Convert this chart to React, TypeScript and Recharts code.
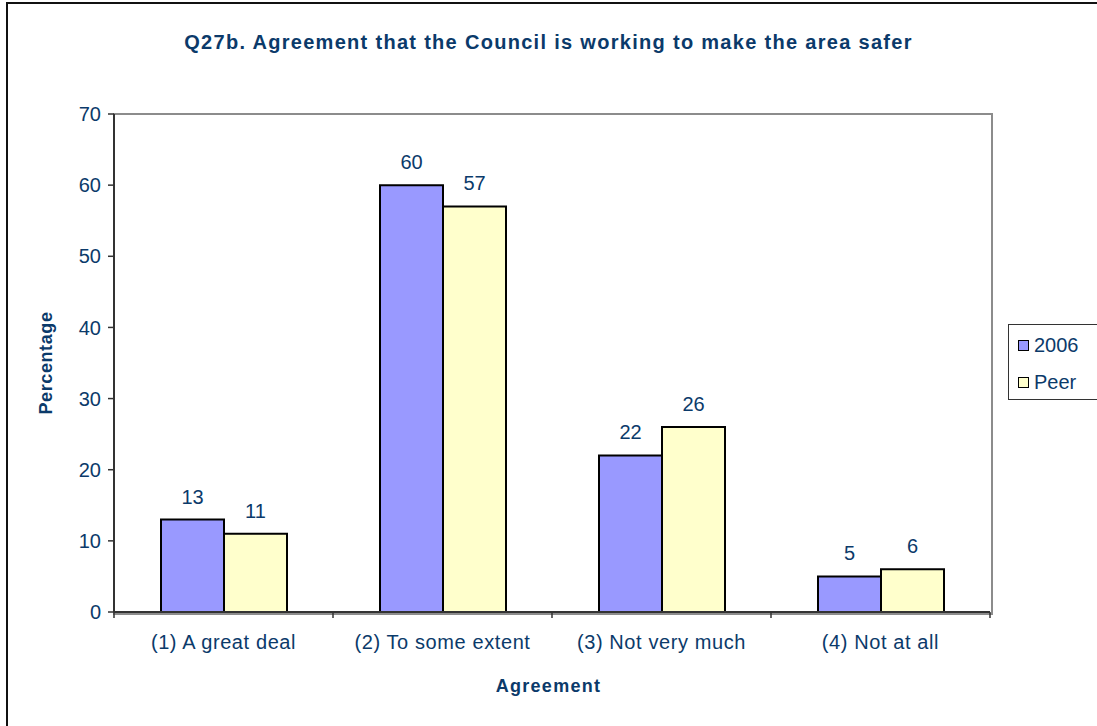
import { BarChart, Bar, XAxis, YAxis, LabelList } from 'recharts'

const categories = ['(1) A great deal', '(2) To some extent', '(3) Not very much', '(4) Not at all']
const values2006 = [13, 60, 22, 5]
const valuesPeer = [11, 57, 26, 6]
const yTicks = [0, 10, 20, 30, 40, 50, 60, 70]
const seriesNames = ['2006', 'Peer']
const seriesColors = ['#9999FF', '#FFFFCC']

const INK = '#0B3A6A'
const AXIS = '#333'
const FONT = 'Arial, "Liberation Sans", sans-serif'

const data = categories.map((name, i) => ({
  name,
  y2006: values2006[i],
  peer: valuesPeer[i],
}))

const W = 1097
const H = 726
const PLOT = { left: 114, top: 114, right: 990, bottom: 612 }
const Y_AXIS_W = 60
const X_AXIS_H = 60
const M = { top: PLOT.top, right: W - PLOT.right, bottom: H - PLOT.bottom - X_AXIS_H, left: PLOT.left - Y_AXIS_W }
const BAND = (PLOT.right - PLOT.left) / categories.length

// category label plus tick marks on the band boundaries
function XTick(props: any) {
  const { x, y, payload, index } = props
  const half = payload && payload.offset ? payload.offset : BAND / 2
  return (
    <g>
      <line x1={x - half} x2={x - half} y1={y} y2={y + 6} stroke={AXIS} strokeWidth={1.5} />
      {index === categories.length - 1 && (
        <line x1={x + half} x2={x + half} y1={y} y2={y + 6} stroke={AXIS} strokeWidth={1.5} />
      )}
      <text x={x} y={y + 23} dy="0.71em" textAnchor="middle" fill={INK} fontSize={20} fontFamily={FONT} letterSpacing={0.6}>
        {payload.value}
      </text>
    </g>
  )
}

export default function App() {
  return (
    <div style={{ position: 'absolute', left: 0, top: 0, width: W, height: H, background: '#fff', fontFamily: FONT, overflow: 'hidden' }}>
      {/* outer frame (cropped at right/bottom) */}
      <div style={{ position: 'absolute', left: 6, top: 2, width: W + 20, height: H + 20, borderLeft: '2px solid #111', borderTop: '2px solid #111' }} />
      {/* plot area frame */}
      <div style={{ position: 'absolute', left: PLOT.left - 1, top: PLOT.top - 1, width: PLOT.right - PLOT.left, height: PLOT.bottom - PLOT.top, border: '2px solid #8c8c8c', boxSizing: 'content-box' }} />

      <div style={{ position: 'absolute', left: 0, top: 31, width: W, textAlign: 'center', color: INK, fontWeight: 'bold', fontSize: 20, letterSpacing: 1.3 }}>
        Q27b. Agreement that the Council is working to make the area safer
      </div>

      <div style={{ position: 'absolute', left: 0, top: 0 }}>
        <BarChart width={W} height={H} data={data} margin={M} barGap={0} barCategoryGap={47}>
          <YAxis
            domain={[0, 70]}
            ticks={yTicks}
            width={Y_AXIS_W}
            tickSize={6}
            tickMargin={7}
            interval={0}
            axisLine={{ stroke: AXIS, strokeWidth: 2 }}
            tickLine={{ stroke: AXIS, strokeWidth: 1.5 }}
            tick={{ fill: INK, fontSize: 20, fontFamily: FONT }}
          />
          <XAxis
            dataKey="name"
            height={X_AXIS_H}
            tickSize={0}
            tickMargin={0}
            tickLine={false}
            interval={0}
            axisLine={{ stroke: AXIS, strokeWidth: 2 }}
            tick={<XTick />}
          />
          <Bar dataKey="y2006" fill={seriesColors[0]} stroke="#000" strokeWidth={2} isAnimationActive={false}>
            <LabelList dataKey="y2006" position="top" offset={16} fill={INK} fontSize={20} fontFamily={FONT} />
          </Bar>
          <Bar dataKey="peer" fill={seriesColors[1]} stroke="#000" strokeWidth={2} isAnimationActive={false}>
            <LabelList dataKey="peer" position="top" offset={16} fill={INK} fontSize={20} fontFamily={FONT} />
          </Bar>
        </BarChart>
      </div>

      <div style={{ position: 'absolute', left: 46, top: 363, transform: 'translate(-50%, -50%) rotate(-90deg)', color: INK, fontWeight: 'bold', fontSize: 18, letterSpacing: 0.6, whiteSpace: 'nowrap', lineHeight: '20px' }}>
        Percentage
      </div>

      <div style={{ position: 'absolute', left: 0, top: 676, width: W, textAlign: 'center', color: INK, fontWeight: 'bold', fontSize: 18, letterSpacing: 1.3 }}>
        Agreement
      </div>

      <div style={{ position: 'absolute', left: 1008, top: 324, width: 100, height: 76, border: '1px solid #333', boxSizing: 'border-box' }}>
        {seriesNames.map((s, i) => (
          <div key={s} style={{ position: 'absolute', left: 9, top: 9 + i * 37, display: 'flex', alignItems: 'center', color: INK, fontSize: 20, lineHeight: '22px' }}>
            <span style={{ width: 9, height: 9, background: seriesColors[i], border: '1.5px solid #000', marginRight: 5, display: 'inline-block' }} />
            {s}
          </div>
        ))}
      </div>
    </div>
  )
}
